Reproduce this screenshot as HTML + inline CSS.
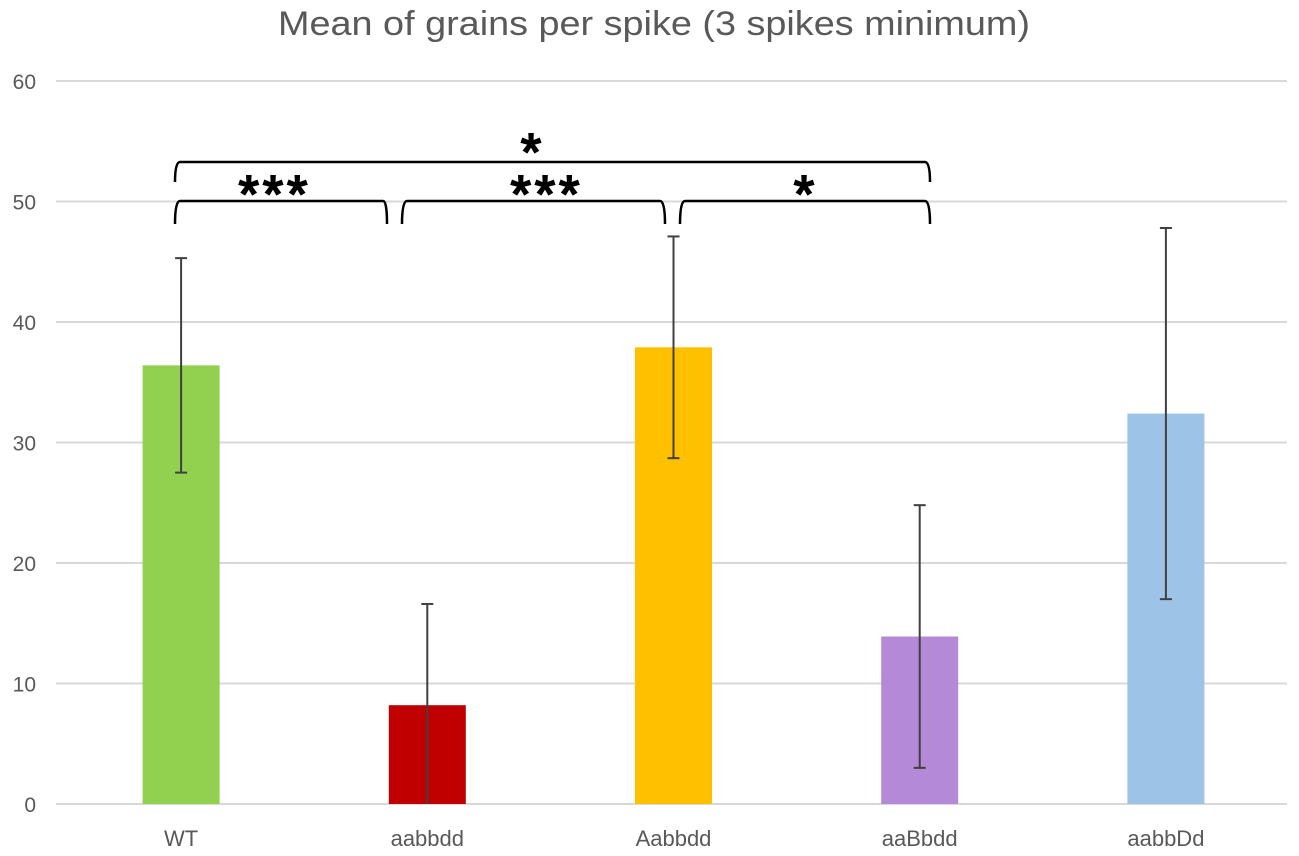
<!DOCTYPE html>
<html><head><meta charset="utf-8"><style>
body{margin:0;background:#fff;}
svg{display:block;font-family:"Liberation Sans",sans-serif;}
</style></head><body>
<svg id="chart" width="1299" height="856">
<text x="654" y="35" text-anchor="middle" font-size="34" textLength="752" lengthAdjust="spacingAndGlyphs" fill="#595959">Mean of grains per spike (3 spikes minimum)</text>
<g id="grid"></g><g id="bars"></g><g id="errs"></g><g id="xl"></g>
<g id="sig" stroke="#000" stroke-width="2.5" fill="none">
<path d="M175 182 Q175 162 180 162 L925 162 Q930 162 930 182"/>
<path d="M175 224 Q175 201 180 201 L383 201 Q387 201 387 224"/>
<path d="M402 224 Q402 201 407 201 L660 201 Q665 201 665 224"/>
<path d="M680 224 Q680 201 685 201 L925 201 Q930 201 930 224"/>
</g>
<g font-size="52" text-anchor="middle" fill="#000" stroke="#000" stroke-width="2">
<text x="531" y="170">*</text>
<text x="275" y="212" letter-spacing="4">***</text>
<text x="547" y="212" letter-spacing="4">***</text>
<text x="804" y="212">*</text>
</g>
</svg>
<script>
const categories=["WT","aabbdd","Aabbdd","aaBbdd","aabbDd"];
const means=[36.4,8.2,37.9,13.9,32.4];
const errs=[8.9,8.4,9.2,10.9,15.4];
const colors=["#92d050","#c00000","#ffc000","#b48ad8","#9dc3e6"];
const ticks=[0,10,20,30,40,50,60];
const NS="http://www.w3.org/2000/svg";
const y0=804,y60=81,x0=58,x1=1289;
const y=v=>y0-(v/60)*(y0-y60);
const step=(x1-x0)/categories.length;
const xc=i=>x0+step*(i+0.5);
function mk(t,a,p){const e=document.createElementNS(NS,t);for(const k in a)e.setAttribute(k,a[k]);p.appendChild(e);return e;}
const G=document.getElementById('grid');
ticks.forEach(t=>{
 const l=mk('line',{x1:56,x2:1287,y1:y(t),y2:y(t),stroke:'#d9d9d9','stroke-width':2},G);
 
 
 const tx=mk('text',{x:36,y:y(t)+8,'text-anchor':'end','font-size':21,fill:'#595959'},G);
 tx.textContent=t;
 
 
});
const B=document.getElementById('bars'),E=document.getElementById('errs'),X=document.getElementById('xl');
categories.forEach((c,i)=>{
 const r=mk('rect',{x:xc(i)-38.5,width:77,y:y(means[i]),height:y0-y(means[i]),fill:colors[i]},B);
 
 
 const hi=means[i]+errs[i],lo=Math.max(0,means[i]-errs[i]);
 const g=mk('g',{stroke:'#404040','stroke-width':2},E);
 
 
 mk('line',{x1:xc(i),x2:xc(i),y1:y(hi),y2:y(lo)},g);
 mk('line',{x1:xc(i)-6,x2:xc(i)+6,y1:y(hi),y2:y(hi)},g);
 if(means[i]-errs[i]>0) mk('line',{x1:xc(i)-6,x2:xc(i)+6,y1:y(lo),y2:y(lo)},g);
 const t=mk('text',{x:xc(i),y:846,'text-anchor':'middle','font-size':22,fill:'#595959'},X);
 t.textContent=c;
 
 
});
</script>
</body></html>
